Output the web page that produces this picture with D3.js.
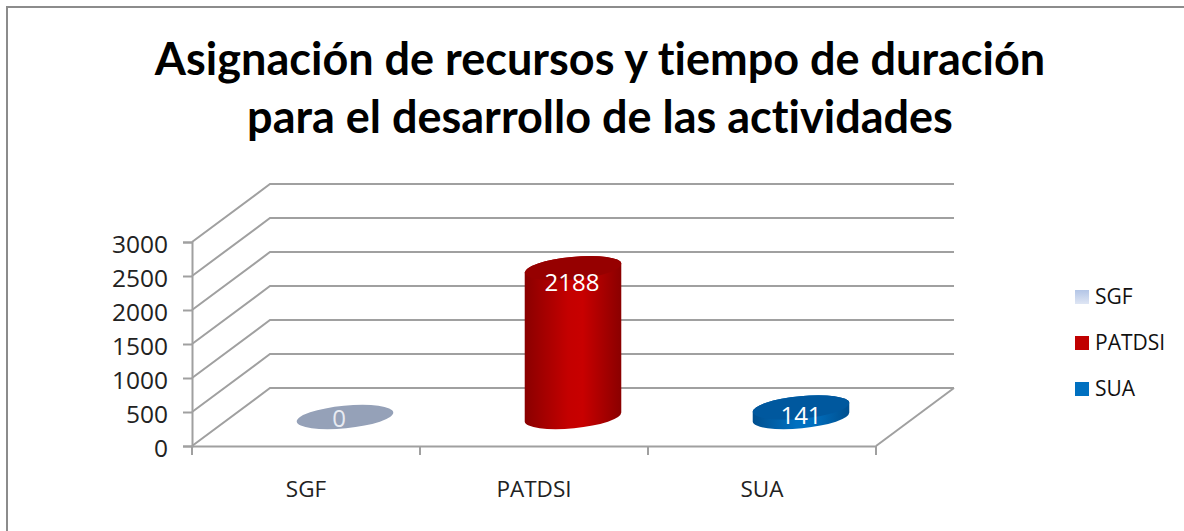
<!DOCTYPE html>
<html>
<head>
<meta charset="utf-8">
<title>Asignación de recursos</title>
<script src="https://d3js.org/d3.v7.min.js"></script>
<style>
    html, body { margin: 0; padding: 0; background: #fff; overflow: hidden; }
    svg { display: block; }
    text { font-family: "Open Sans", sans-serif; }
    .title { font-family: Lato, sans-serif; font-weight: 700; font-size: 45px; fill: #000; font-variant-ligatures: none; }
</style>
</head>
<body>
<svg id="chart" width="1184" height="531"></svg>
<script>
    const categories = ["SGF", "PATDSI", "SUA"];
    const values = [0, 2188, 141];
    const yTicks = [0, 500, 1000, 1500, 2000, 2500, 3000];
    const legendLabels = ["SGF", "PATDSI", "SUA"];
    const titleLines = ["Asignación de recursos y tiempo de duración", "para el desarrollo de las actividades"];

    const svg = d3.select("svg#chart");

    // frame of the chart area, cut off at the right and bottom of the picture
    svg.append("path")
       .attr("d", "M7,531V7H1184")
       .attr("fill", "none")
       .attr("stroke", "#8c8c8c")
       .attr("stroke-width", 2);

    svg.selectAll("text.title").data(titleLines)
       .join("text")
       .attr("class", "title")
       .attr("x", 600)
       .attr("y", (d, i) => 75 + i * 58)
       .attr("text-anchor", "middle")
       .text(d => d);

    // front plane scales, the back wall is the same thing shifted by depth
    const x = d3.scaleBand().domain(categories).range([192, 876]);
    const y = d3.scaleLinear().domain([0, 3000]).range([446, 242]);
    const depthX = 78, depthY = -58;
    const gridColor = "#a0a0a0";
    const lineWidth = 2;

    const defs = svg.append("defs");
    const gradients = [
        {id: "redBody", stops: ["#8a0000", "#c40000", "#c80000", "#8a0000"]},
        {id: "blueBody", stops: ["#004f8f", "#0070c0", "#0070c0", "#004f8f"]}
    ];
    gradients.forEach(g => {
        const grad = defs.append("linearGradient").attr("id", g.id);
        g.stops.forEach((c, i) => grad.append("stop")
            .attr("offset", [0, 0.45, 0.6, 1][i])
            .attr("stop-color", c));
    });
    const legendGrad = defs.append("linearGradient").attr("id", "sgfLegend")
        .attr("x1", 0).attr("y1", 0).attr("x2", 0).attr("y2", 1);
    legendGrad.append("stop").attr("offset", 0).attr("stop-color", "#b3c5e6");
    legendGrad.append("stop").attr("offset", 1).attr("stop-color", "#dfe6f4");

    // gridlines: side wall and back wall
    svg.selectAll("path.grid").data(yTicks)
       .join("path")
       .attr("class", "grid")
       .attr("d", d => `M${x.range()[0]},${y(d)}l${depthX},${depthY}H${x.range()[1] + depthX}`)
       .attr("fill", "none")
       .attr("stroke", gridColor)
       .attr("stroke-width", lineWidth);

    // floor front right edge
    svg.append("path")
       .attr("d", `M${x.range()[1]},${y(0)}l${depthX},${depthY}`)
       .attr("fill", "none")
       .attr("stroke", gridColor)
       .attr("stroke-width", lineWidth);

    const yAxis = d3.axisLeft(y).tickValues(yTicks).tickSize(9).tickPadding(15).tickFormat(d3.format("d"));
    const yG = svg.append("g").attr("transform", `translate(${x.range()[0]},0)`).call(yAxis);
    const xAxis = d3.axisBottom(x).tickSize(0).tickPadding(35);
    const xG = svg.append("g").attr("transform", `translate(0,${y(0)})`).call(xAxis);

    // x ticks sit on the band edges
    const edges = categories.map(c => x(c)).concat(x.range()[1]);
    svg.selectAll("line.xtick").data(edges)
       .join("line")
       .attr("class", "xtick")
       .attr("x1", d => d).attr("x2", d => d)
       .attr("y1", y(0)).attr("y2", y(0) + 9)
       .attr("stroke", gridColor)
       .attr("stroke-width", lineWidth);

    [yG, xG].forEach(g => {
        g.selectAll(".domain").attr("stroke", gridColor).attr("stroke-width", lineWidth);
        g.selectAll(".tick line").attr("stroke", gridColor).attr("stroke-width", lineWidth);
        g.selectAll("text").attr("font-family", '"Open Sans", sans-serif').attr("fill", "#222");
    });
    yG.selectAll("text").attr("font-size", 24.5).attr("y", 3);
    xG.selectAll("text").attr("font-size", 22.5);

    // cylinders, tilted ellipses as excel draws them
    const rx = 48.5, ry = 11.3, tilt = -5.5;
    const dx = rx * Math.cos(tilt * Math.PI / 180);
    const dy = rx * Math.sin(tilt * Math.PI / 180);
    const cx = c => x(c) + x.bandwidth() / 2 + depthX / 2;
    const baseY = y(0) + depthY / 2;
    const topY = v => y(v) + depthY / 2;

    const bodies = ["#95a1b8", "url(#redBody)", "url(#blueBody)"];
    const caps = ["#95a1b8", "#960000", "#00589e"];

    categories.forEach((c, i) => {
        const v = values[i];
        const px = cx(c), ty = topY(v);
        if (v > 0) {
            svg.append("path")
               .attr("d", `M${px - dx},${ty - dy}L${px - dx},${baseY - dy}`
                        + `A${rx},${ry} ${tilt} 0 0 ${px + dx},${baseY + dy}`
                        + `L${px + dx},${ty + dy}`
                        + `A${rx},${ry} ${tilt} 0 0 ${px - dx},${ty - dy}Z`)
               .attr("fill", bodies[i]);
        }
        svg.append("ellipse")
           .attr("cx", px).attr("cy", ty)
           .attr("rx", rx).attr("ry", ry)
           .attr("transform", `rotate(${tilt} ${px} ${ty})`)
           .attr("fill", caps[i]);
    });

    // data labels
    const labelShift = [[-6, 10], [-1, 23], [0, 17]];
    svg.selectAll("text.value").data(values)
       .join("text")
       .attr("class", "value")
       .attr("x", (d, i) => cx(categories[i]) + labelShift[i][0])
       .attr("y", (d, i) => topY(d) + labelShift[i][1])
       .attr("text-anchor", "middle")
       .attr("font-size", 24)
       .attr("fill", (d, i) => i === 0 ? "#e8ebf2" : "#fff")
       .text(d => d);

    // legend
    const legendY = d3.scalePoint().domain(legendLabels).range([297, 389]);
    const legendFill = ["url(#sgfLegend)", "#c00000", "#0070c0"];
    const legend = svg.selectAll("g.legend").data(legendLabels)
       .join("g")
       .attr("class", "legend")
       .attr("transform", d => `translate(1075,${legendY(d)})`);
    legend.append("rect")
       .attr("x", 0).attr("y", -7)
       .attr("width", 14).attr("height", 14)
       .attr("fill", (d, i) => legendFill[i]);
    legend.append("text")
       .attr("x", 20).attr("y", 7)
       .attr("font-size", 21)
       .attr("fill", "#111")
       .text(d => d);
</script>
</body>
</html>
